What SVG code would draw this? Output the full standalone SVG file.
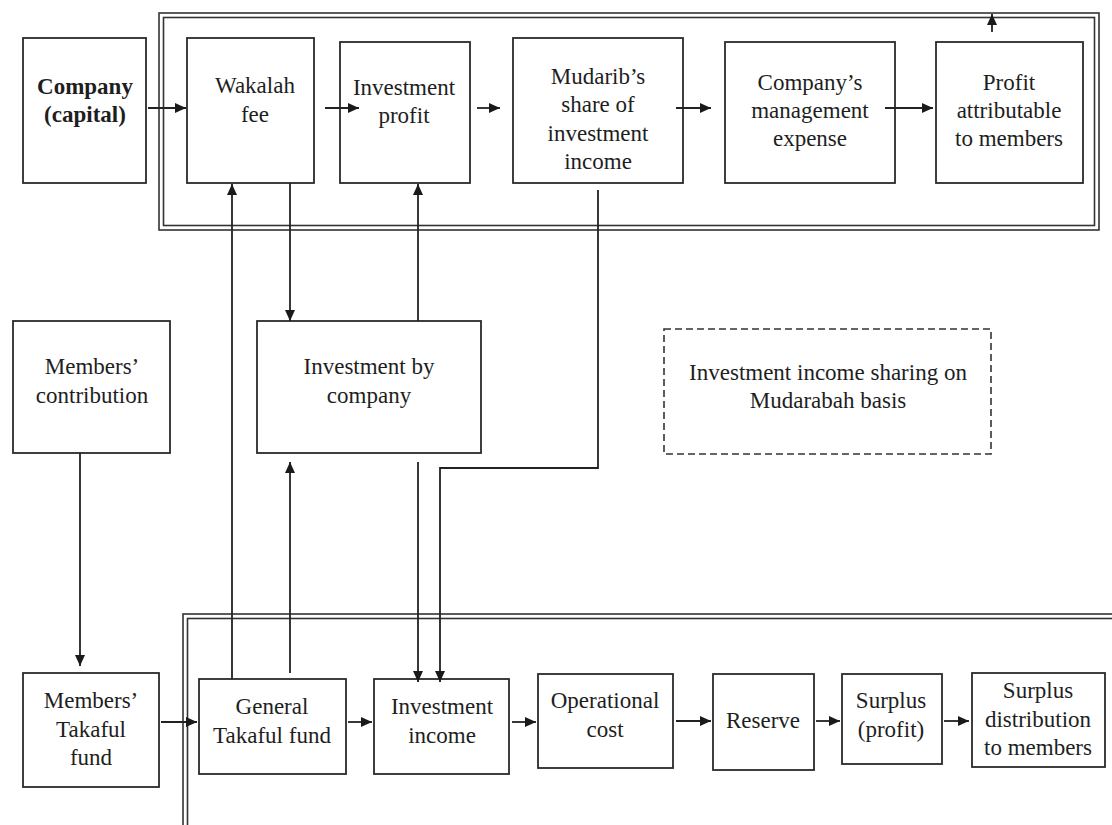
<svg xmlns="http://www.w3.org/2000/svg" width="1112" height="825" viewBox="0 0 1112 825">
<defs>
<style>
.box{fill:none;stroke:#2a2a2a;stroke-width:1.8}
.frame{fill:none;stroke:#333;stroke-width:1.6}
.dash{fill:none;stroke:#333;stroke-width:1.6;stroke-dasharray:7 4}
.t{font-family:"Liberation Serif","Times New Roman",serif;font-size:23px;fill:#1e1e1e;text-anchor:middle}
.b{font-weight:bold}
.c{fill:none;stroke:#222;stroke-width:1.8}
</style>
<marker id="ah" markerUnits="userSpaceOnUse" markerWidth="13" markerHeight="11" refX="11" refY="5" orient="auto">
<path d="M0,0 L11,5 L0,10 z" fill="#1a1a1a"/>
</marker>
</defs>
<rect width="1112" height="825" fill="#fff"/>

<g id="frames">
<rect class="frame" x="159" y="13" width="940" height="217"/>
<rect class="frame" x="163.5" y="17.5" width="931" height="208"/>
<rect class="frame" x="183" y="614" width="1000" height="400"/>
<rect class="frame" x="187.5" y="618.5" width="1000" height="400"/>
</g>

<g id="company-capital">
<rect class="box" x="23" y="38" width="123" height="145"/>
<text class="t b" x="85" y="94">Company</text>
<text class="t b" x="85" y="122">(capital)</text>
</g>
<g id="wakalah-fee">
<rect class="box" x="187" y="38" width="127" height="145"/>
<text class="t" x="255" y="93">Wakalah</text>
<text class="t" x="255" y="122">fee</text>
</g>
<g id="investment-profit">
<rect class="box" x="340" y="42" width="130" height="141"/>
<text class="t" x="404" y="95">Investment</text>
<text class="t" x="404" y="123">profit</text>
</g>
<g id="mudarib-share">
<rect class="box" x="513" y="38" width="170" height="145"/>
<text class="t" x="598" y="84">Mudarib’s</text>
<text class="t" x="598" y="112">share of</text>
<text class="t" x="598" y="140.5">investment</text>
<text class="t" x="598" y="169">income</text>
</g>
<g id="management-expense">
<rect class="box" x="725" y="42" width="170" height="141"/>
<text class="t" x="810" y="90">Company’s</text>
<text class="t" x="810" y="118">management</text>
<text class="t" x="810" y="146">expense</text>
</g>
<g id="profit-members">
<rect class="box" x="936" y="42" width="147" height="141"/>
<text class="t" x="1009" y="90">Profit</text>
<text class="t" x="1009" y="118">attributable</text>
<text class="t" x="1009" y="146">to members</text>
</g>
<g id="members-contribution">
<rect class="box" x="13" y="321" width="157" height="132"/>
<text class="t" x="92" y="374">Members’</text>
<text class="t" x="92" y="403">contribution</text>
</g>
<g id="investment-by-company">
<rect class="box" x="257" y="321" width="224" height="132"/>
<text class="t" x="369" y="374">Investment by</text>
<text class="t" x="369" y="403">company</text>
</g>
<g id="mudarabah-note">
<rect class="dash" x="664" y="329" width="327" height="125"/>
<text class="t" x="828" y="380">Investment income sharing on</text>
<text class="t" x="828" y="408">Mudarabah basis</text>
</g>
<g id="members-takaful-fund">
<rect class="box" x="23" y="673" width="136" height="114"/>
<text class="t" x="91" y="708">Members’</text>
<text class="t" x="91" y="737">Takaful</text>
<text class="t" x="91" y="765">fund</text>
</g>
<g id="general-takaful-fund">
<rect class="box" x="199" y="679" width="147" height="95"/>
<text class="t" x="272" y="714">General</text>
<text class="t" x="272" y="743">Takaful fund</text>
</g>
<g id="investment-income">
<rect class="box" x="374" y="679" width="135" height="95"/>
<text class="t" x="442" y="714">Investment</text>
<text class="t" x="442" y="743">income</text>
</g>
<g id="operational-cost">
<rect class="box" x="538" y="674" width="135" height="94"/>
<text class="t" x="605" y="708">Operational</text>
<text class="t" x="605" y="737">cost</text>
</g>
<g id="reserve">
<rect class="box" x="713" y="674" width="101" height="96"/>
<text class="t" x="763" y="728">Reserve</text>
</g>
<g id="surplus-profit">
<rect class="box" x="842" y="674" width="100" height="90"/>
<text class="t" x="891" y="708">Surplus</text>
<text class="t" x="891" y="737">(profit)</text>
</g>
<g id="surplus-distribution">
<rect class="box" x="972" y="673" width="133" height="94"/>
<text class="t" x="1038" y="698">Surplus</text>
<text class="t" x="1038" y="727">distribution</text>
<text class="t" x="1038" y="755">to members</text>
</g>

<g id="connectors">
<line class="c" x1="148" y1="108" x2="186" y2="108" marker-end="url(#ah)"/>
<line class="c" x1="325" y1="108" x2="359" y2="108" marker-end="url(#ah)"/>
<line class="c" x1="477" y1="108" x2="500" y2="108" marker-end="url(#ah)"/>
<line class="c" x1="676" y1="108" x2="711" y2="108" marker-end="url(#ah)"/>
<line class="c" x1="885" y1="108" x2="933" y2="108" marker-end="url(#ah)"/>
<line class="c" x1="992" y1="32" x2="992" y2="14" marker-end="url(#ah)"/>
<line class="c" x1="232" y1="679" x2="232" y2="184" marker-end="url(#ah)"/>
<line class="c" x1="290" y1="183" x2="290" y2="321" marker-end="url(#ah)"/>
<line class="c" x1="418" y1="321" x2="418" y2="184" marker-end="url(#ah)"/>
<polyline class="c" points="598,190 598,468 440,468 440,682" marker-end="url(#ah)"/>
<line class="c" x1="290" y1="673" x2="290" y2="462" marker-end="url(#ah)"/>
<line class="c" x1="418" y1="462" x2="418" y2="682" marker-end="url(#ah)"/>
<line class="c" x1="80" y1="453" x2="80" y2="666" marker-end="url(#ah)"/>
<line class="c" x1="161" y1="722" x2="197" y2="722" marker-end="url(#ah)"/>
<line class="c" x1="348" y1="722" x2="372" y2="722" marker-end="url(#ah)"/>
<line class="c" x1="512" y1="722" x2="536" y2="722" marker-end="url(#ah)"/>
<line class="c" x1="676" y1="721" x2="711" y2="721" marker-end="url(#ah)"/>
<line class="c" x1="816" y1="721" x2="840" y2="721" marker-end="url(#ah)"/>
<line class="c" x1="944" y1="721" x2="969" y2="721" marker-end="url(#ah)"/>
</g>
</svg>
